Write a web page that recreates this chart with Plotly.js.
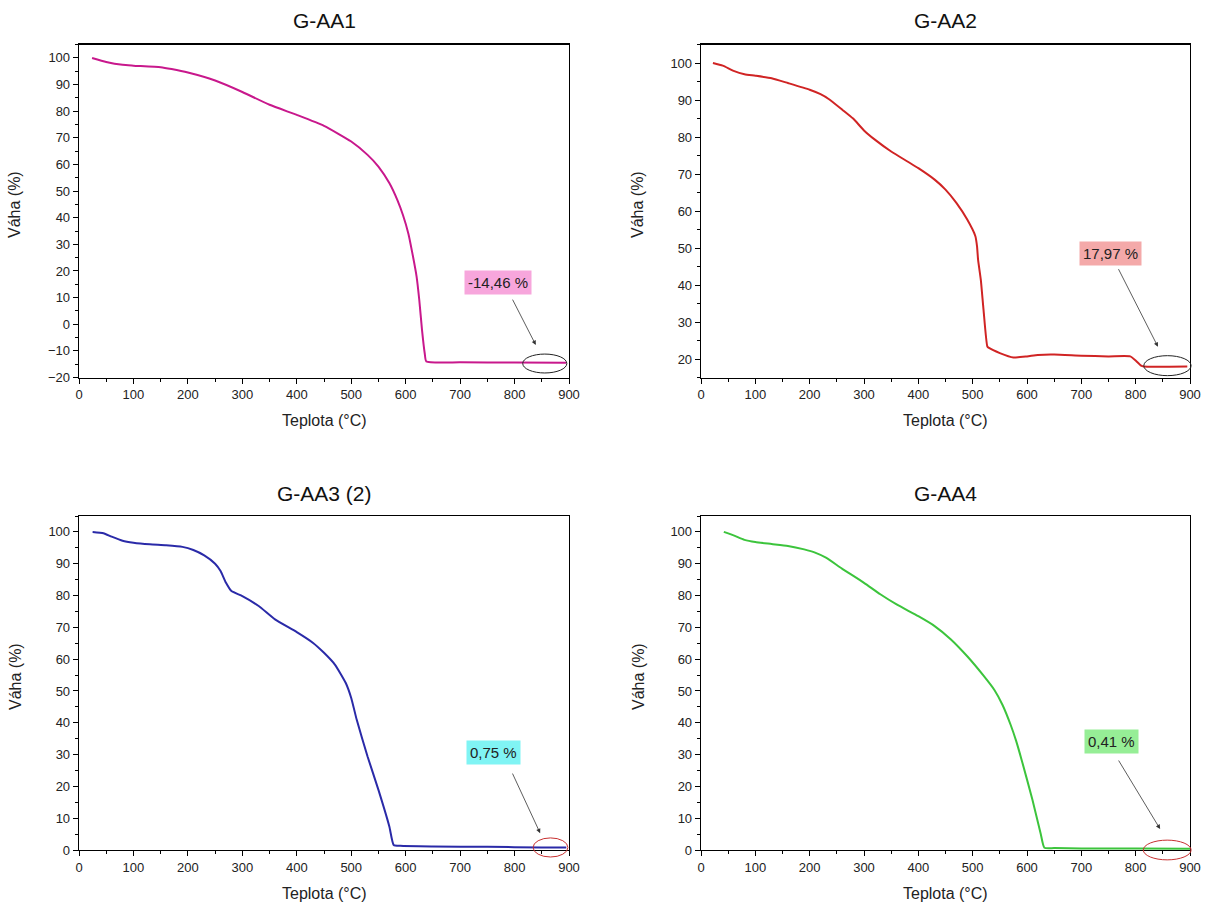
<!DOCTYPE html>
<html>
<head>
<meta charset="utf-8">
<script src="https://cdn.plot.ly/plotly-3.0.1.min.js"></script>
<style>html,body{margin:0;padding:0;background:#fff;}#chart{width:1215px;height:905px;}</style>
</head>
<body>
<div id="chart"></div>
<script>
// ---- data ----
const titles = ["G-AA1", "G-AA2", "G-AA3 (2)", "G-AA4"];
const xLabel = "Teplota (°C)";
const yLabel = "Váha (%)";
const residueLabels = ["-14,46 %", "17,97 %", "0,75 %", "0,41 %"];

const aa1_T = [24, 50, 80, 100, 150, 170, 200, 250, 300, 350, 400, 450, 500, 530, 550, 570, 585, 595, 605, 612, 620, 625, 630, 635, 638, 700, 800, 895];
const aa1_W = [100, 98.5, 97.4, 97.1, 96.5, 95.8, 94.5, 91.5, 87.2, 82.4, 78.6, 74.5, 68.6, 63.6, 59.2, 53.0, 46.5, 41.0, 34.0, 27.0, 18.0, 9.1, -2.1, -10.9, -14.0, -14.3, -14.4, -14.46];

const aa2_T = [22, 40, 60, 80, 100, 130, 160, 200, 220, 235, 260, 280, 300, 320, 350, 380, 400, 430, 450, 470, 490, 505, 508, 510, 515, 520, 527, 530, 550, 575, 600, 620, 650, 700, 750, 790, 800, 810, 815, 895];
const aa2_W = [100, 99.3, 97.9, 97.0, 96.6, 95.9, 94.6, 92.8, 91.6, 90.3, 87.4, 85.0, 81.8, 79.3, 76.1, 73.4, 71.6, 68.5, 65.8, 62.2, 57.7, 53.2, 50.5, 46.8, 41.4, 33.3, 23.4, 23.0, 21.6, 20.4, 20.7, 21.1, 21.2, 20.9, 20.7, 20.7, 19.6, 18.2, 17.97, 17.97];

const aa3_T = [25, 45, 60, 80, 100, 130, 160, 190, 210, 230, 250, 260, 270, 280, 300, 330, 360, 400, 430, 450, 470, 490, 500, 510, 530, 550, 570, 578, 590, 650, 750, 850, 895];
const aa3_W = [100, 99.6, 98.5, 97.2, 96.6, 96.1, 95.8, 95.3, 94.3, 92.6, 90.0, 87.7, 84.0, 81.4, 79.8, 76.7, 72.5, 68.5, 65.1, 62.0, 58.3, 52.5, 47.8, 41.0, 29.4, 18.9, 7.4, 1.6, 1.3, 1.1, 1.0, 0.8, 0.75];

const aa4_T = [42, 60, 80, 100, 130, 160, 190, 210, 230, 260, 300, 330, 360, 400, 430, 460, 490, 520, 540, 555, 570, 580, 590, 610, 625, 632, 650, 700, 800, 900];
const aa4_W = [100, 98.9, 97.5, 96.8, 96.2, 95.6, 94.5, 93.5, 91.9, 88.4, 84.0, 80.4, 77.2, 73.5, 70.4, 66.2, 60.9, 54.8, 50.3, 45.6, 39.3, 34.3, 28.4, 15.8, 5.3, 0.7, 0.6, 0.5, 0.45, 0.41];

// ---- styling ----
const lineColors = ["#c8188c", "#d02424", "#2a2aa8", "#3cc43c"];
const boxColors = ["#f7a6dc", "#f4a9a9", "#80f4f4", "#96ee96"];
const ellipseColors = ["#222222", "#222222", "#c83030", "#c83030"];
const FONT = "Liberation Sans, Arial, sans-serif";

const series = [[aa1_T, aa1_W], [aa2_T, aa2_W], [aa3_T, aa3_W], [aa4_T, aa4_W]];
const traces = series.map((s, i) => ({
  type: "scatter", mode: "lines",
  x: s[0], y: s[1],
  xaxis: i === 0 ? "x" : "x" + (i + 1),
  yaxis: i === 0 ? "y" : "y" + (i + 1),
  line: {color: lineColors[i], width: 2, shape: "spline", smoothing: 0.5},
  hoverinfo: "x+y"
}));

function xax(domain, anchor) {
  return {
    domain: domain, anchor: anchor, range: [0, 900], dtick: 100, tick0: 0,
    showline: true, mirror: true, linecolor: "#000", linewidth: 1.3,
    ticks: "outside", ticklen: 5, tickwidth: 1, tickcolor: "#000",
    minor: {ticks: "outside", ticklen: 3, dtick: 50, tickcolor: "#000", tickwidth: 1},
    showgrid: false, zeroline: false,
    tickfont: {family: FONT, size: 13, color: "#222"}
  };
}
function yax(domain, anchor, range) {
  return {
    domain: domain, anchor: anchor, range: range, dtick: 10, tick0: 0,
    showline: true, mirror: true, linecolor: "#000", linewidth: 1.3,
    ticks: "outside", ticklen: 5, tickwidth: 1, tickcolor: "#000",
    minor: {ticks: "outside", ticklen: 3, dtick: 5, tickcolor: "#000", tickwidth: 1},
    showgrid: false, zeroline: false,
    tickfont: {family: FONT, size: 13, color: "#222"}
  };
}

const W = 1215, H = 905;
const colL = [79 / W, 569 / W], colR = [701 / W, 1190 / W];
const rowT = [1 - 377.5 / H, 1 - 44.6 / H], rowB = [1 - 850 / H, 1 - 516 / H];
const xRange = [0, 900];
const yRanges = [[-20, 105], [15, 105], [0, 105], [0, 105]];
const xDomains = [colL, colR, colL, colR];
const yDomains = [rowT, rowT, rowB, rowB];

// convert a panel's data position into paper coordinates (for unclipped ellipses)
function px(i, v) { const d = xDomains[i]; return d[0] + (v - xRange[0]) / (xRange[1] - xRange[0]) * (d[1] - d[0]); }
function py(i, v) { const d = yDomains[i], r = yRanges[i]; return d[0] + (v - r[0]) / (r[1] - r[0]) * (d[1] - d[0]); }

// positions of the decorations in each panel (data coords)
const labelPos = [[770, 15.6], [753, 48.4], [762, 30.5], [755, 34]];
const arrowTail = [[795, 9.8], [767, 44.7], [795, 24.5], [767, 28.6]];
const arrowHead = [[839, -7.8], [841, 23.3], [847, 5.3], [845, 6.6]];
const ellX = [[815, 896], [815, 902], [834, 898], [814, 902]];
const ellY = [[-18.3, -11.2], [15.5, 20.9], [-2.2, 3.8], [-3.1, 3.1]];

const annotations = [];
const shapes = [];
const panelCenters = [[324, 211], [945.5, 211], [324, 683], [945.5, 683]];
const titleY = [21, 21, 493, 493];
const xTitleY = [421, 421, 893, 893];
const yTitleX = [15, 638, 15, 638];

for (let i = 0; i < 4; i++) {
  const xr = i === 0 ? "x" : "x" + (i + 1);
  const yr = i === 0 ? "y" : "y" + (i + 1);
  annotations.push({
    xref: "paper", yref: "paper", x: panelCenters[i][0] / W, y: 1 - titleY[i] / H,
    text: titles[i], showarrow: false, xanchor: "center", yanchor: "middle",
    font: {family: FONT, size: 21, color: "#111"}
  });
  annotations.push({
    xref: "paper", yref: "paper", x: panelCenters[i][0] / W, y: 1 - xTitleY[i] / H,
    text: xLabel, showarrow: false, xanchor: "center", yanchor: "middle",
    font: {family: FONT, size: 16, color: "#222"}
  });
  annotations.push({
    xref: "paper", yref: "paper", x: yTitleX[i] / W, y: 1 - (panelCenters[i][1] - 6) / H,
    text: yLabel, showarrow: false, xanchor: "center", yanchor: "middle", textangle: -90,
    font: {family: FONT, size: 16, color: "#222"}
  });
  annotations.push({
    xref: xr, yref: yr, x: labelPos[i][0], y: labelPos[i][1],
    text: residueLabels[i], showarrow: false, xanchor: "center", yanchor: "middle",
    bgcolor: boxColors[i], borderpad: 3,
    font: {family: FONT, size: 15, color: "#222"}
  });
  annotations.push({
    xref: xr, yref: yr, x: arrowHead[i][0], y: arrowHead[i][1],
    axref: xr, ayref: yr, ax: arrowTail[i][0], ay: arrowTail[i][1],
    text: "", showarrow: true, arrowhead: 2, arrowsize: 1.1, arrowwidth: 0.8,
    arrowcolor: "#333", standoff: 0, startstandoff: 0
  });
  shapes.push({
    type: "circle", xref: "paper", yref: "paper",
    x0: px(i, ellX[i][0]), x1: px(i, ellX[i][1]), y0: py(i, ellY[i][0]), y1: py(i, ellY[i][1]),
    line: {color: ellipseColors[i], width: 1}
  });
}

const layout = {
  width: W, height: H,
  margin: {l: 0, r: 0, t: 0, b: 0},
  paper_bgcolor: "#fff", plot_bgcolor: "#fff",
  showlegend: false,
  font: {family: FONT},
  xaxis: xax(colL, "y"), yaxis: yax(rowT, "x", yRanges[0]),
  xaxis2: xax(colR, "y2"), yaxis2: yax(rowT, "x2", yRanges[1]),
  xaxis3: xax(colL, "y3"), yaxis3: yax(rowB, "x3", yRanges[2]),
  xaxis4: xax(colR, "y4"), yaxis4: yax(rowB, "x4", yRanges[3]),
  annotations: annotations,
  shapes: shapes
};

Plotly.newPlot("chart", traces, layout, {displayModeBar: false, staticPlot: true});
</script>
</body>
</html>
